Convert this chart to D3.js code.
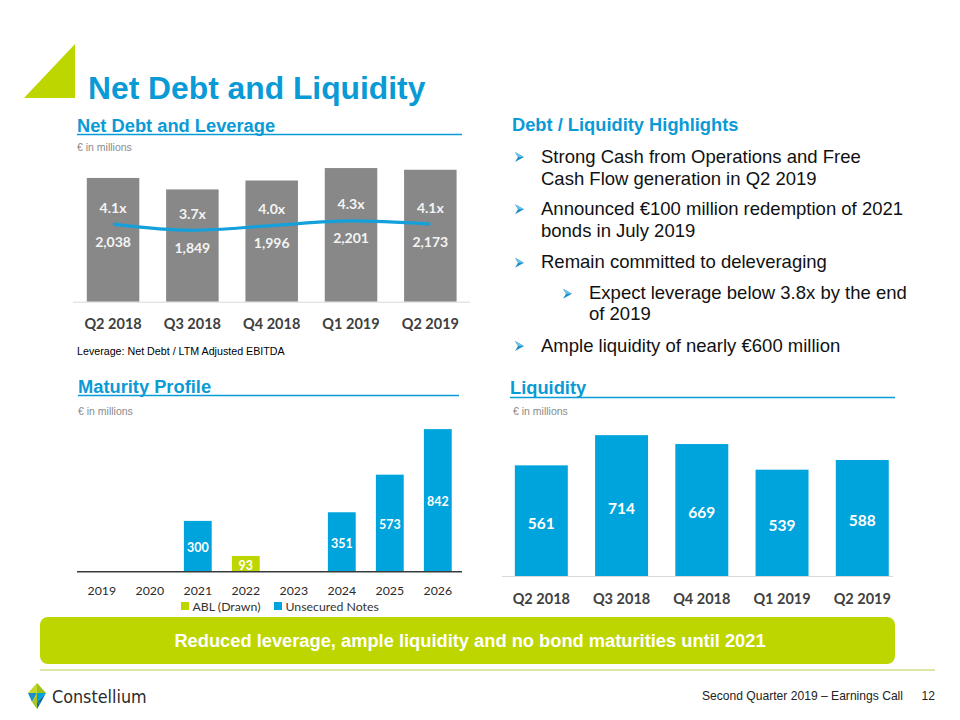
<!DOCTYPE html>
<html><head><meta charset="utf-8">
<script src="https://cdn.jsdelivr.net/npm/d3@7"></script>
<style>
body{margin:0;background:#fff;}
svg{display:block;}
</style></head>
<body>
<svg id="c" width="960" height="720"></svg>
<script>
// ---- data ----
const quarters = ["Q2 2018","Q3 2018","Q4 2018","Q1 2019","Q2 2019"];
const netDebt = [2038,1849,1996,2201,2173];
const leverage = [4.1,3.7,4.0,4.3,4.1];
const maturityYears = ["2019","2020","2021","2022","2023","2024","2025","2026"];
const ablDrawn = [0,0,0,93,0,0,0,0];
const unsecuredNotes = [0,0,300,0,0,351,573,842];
const liquidity = [561,714,669,539,588];
const highlights = [
  {level:0, lines:["Strong Cash from Operations and Free","Cash Flow generation in Q2 2019"]},
  {level:0, lines:["Announced €100 million redemption of 2021","bonds in July 2019"]},
  {level:0, lines:["Remain committed to deleveraging"]},
  {level:1, lines:["Expect leverage below 3.8x by the end","of 2019"]},
  {level:0, lines:["Ample liquidity of nearly €600 million"]}
];

const BLUE = "#0a9ad6", BAR_BLUE = "#00a4dc", GREEN = "#bed600", GRAY_BAR = "#888888";
const LABEL_FONT = "Lato, 'Open Sans', sans-serif";
const ARIAL = "'Liberation Sans', Arial, sans-serif";

const svg = d3.select("#c");

// ---- header ----
svg.append("path").attr("d","M24,98 L75,44 L75,98 Z").attr("fill",GREEN);
svg.append("text").attr("x",88).attr("y",99).text("Net Debt and Liquidity")
  .attr("font-family",ARIAL).attr("font-weight","bold").attr("font-size",31.8).attr("fill",BLUE);

function sectionTitle(x, y, x2, txt, underlineY){
  svg.append("text").attr("x",x).attr("y",y).text(txt)
    .attr("font-family",ARIAL).attr("font-weight","bold").attr("font-size",18.3).attr("fill",BLUE);
  if (x2) svg.append("line").attr("x1",x).attr("x2",x2).attr("y1",underlineY).attr("y2",underlineY)
    .attr("stroke",BLUE).attr("stroke-width",1.6);
}
function unitNote(x,y){
  svg.append("text").attr("x",x).attr("y",y).text("€ in millions")
    .attr("font-family",ARIAL).attr("font-size",10.5).attr("fill","#8a8a8a");
}

// ---- Net Debt and Leverage ----
sectionTitle(77,132,462,"Net Debt and Leverage",134.5);
unitNote(77,151);
{
  const x = d3.scaleBand().domain(quarters).range([73.4,470]).paddingInner(0.338).paddingOuter(0.169);
  const y = d3.scaleLinear().domain([0,2500]).range([301.7,149.9]);
  const yL = d3.scaleLinear().domain([0,10]).range([287.6,132.6]);
  const g = svg.append("g");
  g.selectAll("rect").data(quarters).join("rect")
    .attr("x",d=>x(d)).attr("width",x.bandwidth())
    .attr("y",(d,i)=>y(netDebt[i])).attr("height",(d,i)=>y(0)-y(netDebt[i]))
    .attr("fill",GRAY_BAR);
  g.append("line").attr("x1",73).attr("x2",470).attr("y1",y(0)+0.5).attr("y2",y(0)+0.5)
    .attr("stroke","#d9d9d9").attr("stroke-width",1);
  const line = d3.line().x((d,i)=>x(quarters[i])+x.bandwidth()/2).y(d=>yL(d)).curve(d3.curveMonotoneX);
  g.append("path").attr("d",line(leverage)).attr("fill","none").attr("stroke","#13a0db").attr("stroke-width",3.2);
  const fmt = d3.format(",");
  g.selectAll(".lev").data(leverage).join("text")
    .attr("x",(d,i)=>x(quarters[i])+x.bandwidth()/2).attr("y",d=>yL(d)-17)
    .attr("text-anchor","middle").attr("dominant-baseline","central")
    .attr("font-family",LABEL_FONT).attr("font-weight","bold").attr("font-size",14).attr("fill","#f4f4f4")
    .text(d=>d.toFixed(1)+"x");
  g.selectAll(".nd").data(netDebt).join("text")
    .attr("x",(d,i)=>x(quarters[i])+x.bandwidth()/2).attr("y",(d,i)=>yL(leverage[i])+17)
    .attr("text-anchor","middle").attr("dominant-baseline","central")
    .attr("font-family",LABEL_FONT).attr("font-weight","bold").attr("font-size",14).attr("fill","#f4f4f4")
    .text(d=>fmt(d));
  g.selectAll(".xl").data(quarters).join("text")
    .attr("x",d=>x(d)+x.bandwidth()/2).attr("y",323)
    .attr("text-anchor","middle").attr("dominant-baseline","central")
    .attr("font-family",LABEL_FONT).attr("font-weight","bold").attr("font-size",14.5).attr("fill","#404040")
    .text(d=>d);
  svg.append("text").attr("x",77).attr("y",355).text("Leverage: Net Debt / LTM Adjusted EBITDA")
    .attr("font-family",ARIAL).attr("font-size",10.7).attr("fill","#000");
}

// ---- Highlights ----
sectionTitle(512,131,null,"Debt / Liquidity Highlights");
{
  const centers = [[156,178.3],[208.3,230],[261.7],[292.7,313.3],[345]];
  function arrow(cx, cy){
    const g = svg.append("g").attr("transform",`translate(${cx},${cy})`);
    g.append("path").attr("d","M-4,-5 L5,0 L-4,5 L-1,0 Z").attr("fill","#1c8fc7");
    g.append("path").attr("d","M-4,-5 L5,0 L-1,0 Z").attr("fill","#6cc3ea");
  }
  highlights.forEach((h,i)=>{
    const ax = h.level===0 ? 519 : 567;
    const tx = h.level===0 ? 541 : 589;
    arrow(ax, centers[i][0]+1);
    h.lines.forEach((ln,j)=>{
      svg.append("text").attr("x",tx).attr("y",centers[i][j]+6.6).text(ln)
        .attr("font-family",ARIAL).attr("font-size",18.5).attr("fill","#111");
    });
  });
}

// ---- Maturity Profile ----
sectionTitle(78,393,459,"Maturity Profile",395.5);
unitNote(78,415);
{
  const x = d3.scaleBand().domain(maturityYears).range([77.8,461.8]).paddingInner(0.42).paddingOuter(0.21);
  const y = d3.scaleLinear().domain([0,900]).range([571.7,419.3]);
  const g = svg.append("g");
  const series = [{name:"ABL (Drawn)", vals:ablDrawn, color:GREEN},{name:"Unsecured Notes", vals:unsecuredNotes, color:BAR_BLUE}];
  series.forEach(s=>{
    const idx = s.vals.map((v,i)=>i).filter(i=>s.vals[i]>0);
    g.selectAll(null).data(idx).join("rect")
      .attr("x",i=>x(maturityYears[i])).attr("width",x.bandwidth())
      .attr("y",i=>y(s.vals[i])).attr("height",i=>y(0)-y(s.vals[i]))
      .attr("fill",s.color);
    g.selectAll(null).data(idx).join("text")
      .attr("x",i=>x(maturityYears[i])+x.bandwidth()/2)
      .attr("y",i=>(y(s.vals[i])+y(0))/2+1.5)
      .attr("text-anchor","middle").attr("dominant-baseline","central")
      .attr("font-family",LABEL_FONT).attr("font-weight","bold").attr("font-size",12.5).attr("fill","#fff")
      .text(i=>s.vals[i]);
  });
  g.append("line").attr("x1",77).attr("x2",462).attr("y1",y(0)).attr("y2",y(0))
    .attr("stroke","#3a3a3a").attr("stroke-width",1.5);
  g.selectAll(".xl").data(maturityYears).join("text")
    .attr("x",d=>x(d)+x.bandwidth()/2).attr("y",590)
    .attr("text-anchor","middle").attr("dominant-baseline","central")
    .attr("font-family",LABEL_FONT).attr("font-size",12.3).attr("fill","#2a2a2a")
    .text(d=>d);
  // legend
  const lg = [{x:181, s:series[0]},{x:274, s:series[1]}];
  lg.forEach(l=>{
    g.append("rect").attr("x",l.x).attr("y",602).attr("width",8).attr("height",8).attr("fill",l.s.color);
    g.append("text").attr("x",l.x+11.5).attr("y",606.5).attr("dominant-baseline","central")
      .attr("font-family",LABEL_FONT).attr("font-size",12.3).attr("fill","#333").text(l.s.name);
  });
}

// ---- Liquidity ----
sectionTitle(510,394,895,"Liquidity",397.5);
unitNote(513,415);
{
  const x = d3.scaleBand().domain(quarters).range([501.2,902.4]).paddingInner(0.34).paddingOuter(0.17);
  const y = d3.scaleLinear().domain([0,800]).range([576,418.2]);
  const g = svg.append("g");
  g.selectAll("rect").data(quarters).join("rect")
    .attr("x",d=>x(d)).attr("width",x.bandwidth())
    .attr("y",(d,i)=>y(liquidity[i])).attr("height",(d,i)=>y(0)-y(liquidity[i]))
    .attr("fill",BAR_BLUE);
  g.append("line").attr("x1",502).attr("x2",893).attr("y1",y(0)+0.5).attr("y2",y(0)+0.5)
    .attr("stroke","#d9d9d9").attr("stroke-width",1);
  g.selectAll(".vl").data(liquidity).join("text")
    .attr("x",(d,i)=>x(quarters[i])+x.bandwidth()/2).attr("y",d=>(y(d)+y(0))/2+2)
    .attr("text-anchor","middle").attr("dominant-baseline","central")
    .attr("font-family",LABEL_FONT).attr("font-weight","bold").attr("font-size",15.5).attr("fill","#fff")
    .text(d=>d);
  g.selectAll(".xl").data(quarters).join("text")
    .attr("x",d=>x(d)+x.bandwidth()/2).attr("y",598)
    .attr("text-anchor","middle").attr("dominant-baseline","central")
    .attr("font-family",LABEL_FONT).attr("font-weight","bold").attr("font-size",14.5).attr("fill","#404040")
    .text(d=>d);
}

// ---- banner ----
svg.append("rect").attr("x",40).attr("y",617).attr("width",855).attr("height",47).attr("rx",8).attr("fill",GREEN);
svg.append("text").attr("x",470).attr("y",646.5).attr("text-anchor","middle")
  .text("Reduced leverage, ample liquidity and no bond maturities until 2021")
  .attr("font-family","'Liberation Sans Narrow','Arial Narrow','Liberation Sans',Arial,sans-serif")
  .attr("font-weight","bold").attr("font-size",18.3).attr("fill","#fff");
svg.append("line").attr("x1",40).attr("x2",935).attr("y1",670).attr("y2",670).attr("stroke","#d3dd8a").attr("stroke-width",1.5);

// ---- footer ----
{
  const g = svg.append("g").attr("transform","translate(37,696)");
  g.append("path").attr("d","M0,-13 L9,-3 L0,-3 Z").attr("fill","#9cc31a");
  g.append("path").attr("d","M0,-13 L-9,-3 L0,-3 Z").attr("fill","#c5d82a");
  g.append("path").attr("d","M-9,-3 L0,-3 L-5,6 Z").attr("fill","#1c8fc7");
  g.append("path").attr("d","M0,-3 L9,-3 L0,6 Z").attr("fill","#00a4dc");
  g.append("path").attr("d","M-5,6 L0,-3 L0,13 Z").attr("fill","#a9c71c");
  g.append("path").attr("d","M0,6 L9,-3 L3,8 Z").attr("fill","#0b6fa3");
  g.append("path").attr("d","M0,13 L0,6 L3,8 Z").attr("fill","#0b6fa3");
}
svg.append("text").attr("x",52).attr("y",703).text("Constellium")
  .attr("font-family","'DejaVu Sans Condensed','Liberation Sans Narrow',Arial,sans-serif").attr("font-size",17.8).attr("fill","#2b2b2b");
svg.append("text").attr("x",903).attr("y",700).attr("text-anchor","end").text("Second Quarter 2019 – Earnings Call")
  .attr("font-family","'Liberation Sans Narrow','Liberation Sans',Arial,sans-serif").attr("font-size",12.1).attr("fill","#222");
svg.append("text").attr("x",935).attr("y",700).attr("text-anchor","end").text("12")
  .attr("font-family","'Liberation Sans Narrow','Liberation Sans',Arial,sans-serif").attr("font-size",12.1).attr("fill","#222");
</script>
</body></html>
